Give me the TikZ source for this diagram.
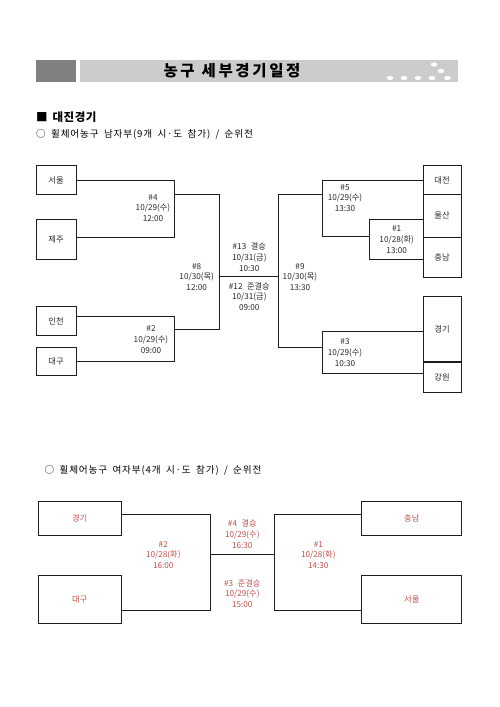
\documentclass[tikz,border=0pt]{standalone}
\usepackage{fontspec}
\setmainfont{Noto Sans CJK KR}
\definecolor{lbl}{RGB}{40,40,40}
\definecolor{wred}{RGB}{192,80,77}
\definecolor{bar}{RGB}{204,204,204}
\definecolor{darkbox}{RGB}{128,128,128}
\definecolor{ink}{RGB}{30,30,30}
\newcommand{\wsp}{\hspace{4.5pt}}
\newcommand{\ssp}{\hspace{5.3pt}}
\tikzset{
  team/.style={draw=ink,line width=1pt,minimum width=#1,inner sep=0pt,font=\fontsize{8.3}{9}\selectfont,text=lbl},
  conn/.style={draw=ink,line width=0.9pt},
  game/.style={align=center,inner sep=0pt,font=\fontsize{8.2}{10.8}\selectfont,text=lbl},
  wgame/.style={align=center,inner sep=0pt,font=\fontsize{8.2}{10.8}\selectfont,text=wred},
  dot/.style={fill=white,draw=none},
  subt/.style={anchor=west,font=\fontsize{9.6}{10}\selectfont\addfontfeature{LetterSpace=9},inner sep=0pt},
}
\begin{document}
\begin{tikzpicture}[x=1pt,y=-1pt]
\useasboundingbox (0,0) rectangle (500,707);
% header
\fill[darkbox] (36,60) rectangle (76,82);
\fill[bar] (80,60) rectangle (458,82);
\node[font=\fontsize{15.5}{16}\selectfont\bfseries\addfontfeature{LetterSpace=17},text=black] (title) at (232,71) {농구\hspace{7pt}세부경기일정};
\foreach \x/\y [count=\i] in {390/78,404/78,418/78,432/78,447.5/78,434/64.5,441/71}
  \fill[dot] (\x,\y) ellipse (3.4 and 2.1);
\node[anchor=west,font=\fontsize{11.5}{12}\selectfont\bfseries\addfontfeature{LetterSpace=4},inner sep=0pt] (sec) at (36,117) {■\hspace{5pt}대진경기};
\node[subt] (sub1) at (36,134) {○\ssp 휠체어농구\ssp 남자부(9개\ssp 시·도\ssp 참가)\ssp /\ssp 순위전};

% men's teams left
\node[team=40pt,minimum height=28.6pt] (seoul) at (56,180) {서울};
\node[team=40pt,minimum height=40pt] (jeju) at (56,239) {제주};
\node[team=40pt,minimum height=28.3pt] (incheon) at (56,321) {인천};
\node[team=40pt,minimum height=28pt] (daegu) at (56,361) {대구};
% men's teams right
\node[team=38pt,minimum height=28.6pt] (daejeon) at (442,180) {대전};
\node[team=38pt,minimum height=43pt] (ulsan) at (442,215.5) {울산};
\node[team=38pt,minimum height=40pt] (chungnam) at (442,257) {충남};
\node[team=38pt,minimum height=65pt] (gyeonggi) at (442,329.2) {경기};
\node[team=38pt,minimum height=30pt] (gangwon) at (442,377) {강원};

% junction coordinates
\coordinate (g4) at (174,194.3);
\coordinate (g2) at (174,329.3);
\coordinate (g8) at (219.3,276.7);
\coordinate (g9) at (278.3,276.7);
\coordinate (g5) at (322.7,194.3);
\coordinate (g3) at (322.7,347.3);
\coordinate (g1) at (369.3,236.7);
\coordinate (jejuE) at ([yshift=1.7pt]jeju.east);
\coordinate (incheonE) at ([yshift=4.3pt]incheon.east);
\coordinate (ulsanW) at ([yshift=-3.8pt]ulsan.west);
\coordinate (chungnamW) at ([yshift=-2pt]chungnam.west);
\coordinate (gyeonggiW) at ([yshift=-2pt]gyeonggi.west);
\coordinate (gangwonW) at ([yshift=3.7pt]gangwon.west);

\draw[conn] (seoul.east) -| (g4 |- jejuE) -- (jejuE);
\draw[conn] (incheonE) -| (g2 |- daegu.east) -- (daegu.east);
\draw[conn] (g4) -| (g8 |- g2) -- (g2);
\draw[conn] (g8 |- g4) -- (g8) -- (g9);
\draw[conn] (g5) -| (g9 |- g3) -- (g3);
\draw[conn] (daejeon.west) -| (g5 |- g1) -- (g1);
\draw[conn] (ulsanW) -| (g1 |- chungnamW) -- (chungnamW);
\draw[conn] (gyeonggiW) -| (g3 |- gangwonW) -- (gangwonW);

% men's game labels
\node[game] (l4) at (153,208) {\#4\\10/29(수)\\12:00};
\node[game] (l8) at (196.7,277) {\#8\\10/30(목)\\12:00};
\node[game] (l2) at (151,339.5) {\#2\\10/29(수)\\09:00};
\node[game] (l13) at (249.3,257) {\#13\wsp 결승\\10/31(금)\\10:30};
\node[game] (l12) at (249.3,296.5) {\#12\wsp 준결승\\10/31(금)\\09:00};
\node[game] (l9) at (300,277) {\#9\\10/30(목)\\13:30};
\node[game] (l5) at (345,198) {\#5\\10/29(수)\\13:30};
\node[game] (l1) at (396.7,239.5) {\#1\\10/28(화)\\13:00};
\node[game] (l3) at (345,352.5) {\#3\\10/29(수)\\10:30};

% women's section
\node[subt] (sub2) at (44.5,470) {○\ssp 휠체어농구\ssp 여자부(4개\ssp 시·도\ssp 참가)\ssp /\ssp 순위전};

\node[team=82.7pt,minimum height=34.3pt,text=wred] (wgy) at (79.7,518.2) {경기};
\node[team=82.7pt,minimum height=48.3pt,text=wred] (wdg) at (79.7,599.2) {대구};
\node[team=100pt,minimum height=34.3pt,text=wred] (wcn) at (411.8,518.2) {충남};
\node[team=100pt,minimum height=48.3pt,text=wred] (wse) at (411.8,599.2) {서울};

\coordinate (w2) at (210,554);
\coordinate (w1) at (274,554);
\coordinate (wgyE) at ([yshift=3.9pt]wgy.east);
\coordinate (wdgE) at ([yshift=-10.8pt]wdg.east);
\coordinate (wcnW) at ([yshift=3.9pt]wcn.west);
\coordinate (wseW) at ([yshift=-10.8pt]wse.west);

\draw[conn] (wgyE) -| (w2 |- wdgE) -- (wdgE);
\draw[conn] (wcnW) -| (w1 |- wseW) -- (wseW);
\draw[conn] (w2) -- (w1);

\node[wgame] (wl2) at (163.3,555) {\#2\\10/28(화)\\16:00};
\node[wgame] (wl1) at (318.3,555) {\#1\\10/28(화)\\14:30};
\node[wgame] (wl4) at (242.3,534) {\#4\wsp 결승\\10/29(수)\\16:30};
\node[wgame] (wl3) at (242.3,593.5) {\#3\wsp 준결승\\10/29(수)\\15:00};
\end{tikzpicture}
\end{document}
